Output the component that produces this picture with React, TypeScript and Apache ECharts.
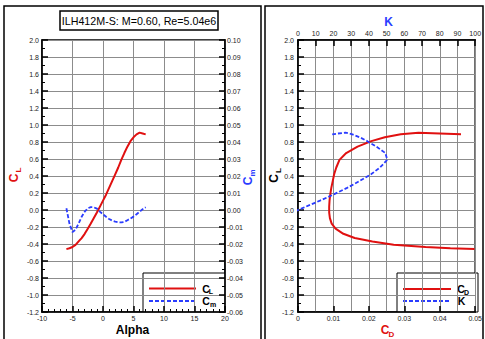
import React, { useEffect, useRef } from 'react';
import * as echarts from 'echarts';

// Angle of attack (deg)
const alpha = [-6, -5.5, -5, -4.5, -4, -3.5, -3, -2.5, -2, -1.5, -1, -0.5, 0, 0.5, 1, 1.5, 2, 2.5, 3, 3.5, 4, 4.5, 5, 5.5, 6, 6.5, 7];
// Lift coefficient
const cl = [-0.46, -0.45, -0.435, -0.41, -0.37, -0.33, -0.28, -0.22, -0.16, -0.095, -0.03, 0.04, 0.11, 0.18, 0.26, 0.34, 0.42, 0.5, 0.59, 0.67, 0.745, 0.81, 0.855, 0.89, 0.91, 0.9, 0.89];
// Moment coefficient
const cm = [0.001, -0.008, -0.013, -0.0115, -0.008, -0.004, -0.001, 0.001, 0.0017, 0.0016, 0.0008, -0.001, -0.0025, -0.004, -0.0053, -0.0062, -0.0068, -0.0072, -0.0073, -0.007, -0.006, -0.005, -0.0039, -0.0025, -0.001, 0.0005, 0.0016];
// Drag coefficient
const cd = [0.0498, 0.043, 0.036, 0.027, 0.021, 0.016, 0.0128, 0.0106, 0.0095, 0.009, 0.0088, 0.0088, 0.0089, 0.0091, 0.0094, 0.0098, 0.0102, 0.0108, 0.0117, 0.0136, 0.0168, 0.0207, 0.0245, 0.029, 0.034, 0.04, 0.046];
// Lift-to-drag ratio K
const kRatio = [-9.2, -10.5, -12.1, -15.2, -17.6, -20.6, -21.9, -20.8, -16.8, -10.6, -3.4, 4.5, 12.4, 19.8, 27.7, 34.7, 41.2, 46.3, 50.4, 49.3, 44.3, 39.1, 34.9, 30.7, 26.8, 22.5, 19.3];

const titleText = 'ILH412M-S: M=0.60, Re=5.04e6';

const RED = '#e01010';
const BLUE = '#2a3cff';
const GRID = '#8c8c8c';
const FONT = '"Liberation Sans", Arial, sans-serif';

const fmt = (d: number) => (v: number) => (Math.abs(v) < 1e-9 ? (0).toFixed(d) : v.toFixed(d));

function axisBase(extra: any) {
  return {
    type: 'value',
    axisLine: { show: true, onZero: false, lineStyle: { color: '#000', width: 1.5 } },
    axisTick: { show: true, inside: true, length: 6, lineStyle: { color: '#000', width: 1.5 } },
    axisLabel: { fontSize: 7, color: '#222', fontFamily: FONT, margin: 3 },
    splitLine: { show: false },
    ...extra,
  };
}

function txt(text: string, x: number, y: number, size: number, color: string, bold = true) {
  return {
    type: 'text',
    x,
    y,
    style: {
      text,
      fill: color,
      fontSize: size,
      fontWeight: bold ? 'bold' : 'normal',
      fontFamily: FONT,
      align: 'center',
      verticalAlign: 'middle',
      textAlign: 'center',
      textVerticalAlign: 'middle',
    },
  };
}

function rotLabel(main: string, sub: string, x: number, y: number, color: string) {
  return {
    type: 'group',
    x,
    y,
    rotation: Math.PI / 2,
    children: [txt(main, 0, 0, 12, color), txt(sub, 8, 4.5, 8, color)],
  };
}

export default function App() {
  const ref = useRef<HTMLDivElement>(null);
  useEffect(() => {
    if (!ref.current) return;
    const chart = echarts.init(ref.current, undefined, { renderer: 'svg' });
    const option: any = {
      animation: false,
      backgroundColor: '#fff',
      grid: [
        { left: 42, top: 40, width: 183, height: 272, show: true, borderColor: '#000', borderWidth: 1.5 },
        { left: 298, top: 40, width: 180, height: 272, show: true, borderColor: '#000', borderWidth: 1.5 },
      ],
      xAxis: [
        axisBase({
          gridIndex: 0, position: 'bottom', min: -10, max: 20, interval: 5,
          axisLabel: { fontSize: 7, color: '#222', fontFamily: FONT, margin: 3, formatter: (v: number) => String(Math.round(v)) },
          minorTick: { show: true, splitNumber: 5, length: 3, lineStyle: { color: '#000', width: 1 } },
          splitLine: { show: true, lineStyle: { color: GRID, width: 1 } },
        }),
        axisBase({
          gridIndex: 1, position: 'bottom', min: 0, max: 0.05, interval: 0.01,
          axisLabel: { fontSize: 7, color: '#222', fontFamily: FONT, margin: 3, formatter: (v: number) => (Math.abs(v) < 1e-9 ? '0' : v.toFixed(2)) },
        }),
        axisBase({
          gridIndex: 1, position: 'top', min: 0, max: 100, interval: 10,
          axisLabel: { fontSize: 7, color: '#222', fontFamily: FONT, margin: 3, formatter: (v: number) => String(Math.round(v)) },
          splitLine: { show: true, lineStyle: { color: GRID, width: 1 } },
        }),
      ],
      yAxis: [
        axisBase({
          gridIndex: 0, position: 'left', min: -1.2, max: 2.0, interval: 0.2,
          axisLabel: { fontSize: 7, color: '#222', fontFamily: FONT, margin: 3, formatter: fmt(1) },
          minorTick: { show: true, splitNumber: 2, length: 3, lineStyle: { color: '#000', width: 1 } },
          splitLine: { show: true, lineStyle: { color: GRID, width: 1 } },
        }),
        axisBase({
          gridIndex: 0, position: 'right', min: -0.06, max: 0.1, interval: 0.01,
          axisLabel: { fontSize: 7, color: '#222', fontFamily: FONT, margin: 2, formatter: fmt(2) },
          minorTick: { show: true, splitNumber: 2, length: 3, lineStyle: { color: '#000', width: 1 } },
        }),
        axisBase({
          gridIndex: 1, position: 'left', min: -1.2, max: 2.0, interval: 0.2,
          axisLabel: { fontSize: 7, color: '#222', fontFamily: FONT, margin: 4, formatter: fmt(1) },
          minorTick: { show: true, splitNumber: 2, length: 3, lineStyle: { color: '#000', width: 1 } },
          splitLine: { show: true, lineStyle: { color: GRID, width: 1 } },
        }),
      ],
      series: [
        {
          type: 'line', xAxisIndex: 0, yAxisIndex: 0, showSymbol: false,
          data: alpha.map((a, i) => [a, cl[i]]),
          lineStyle: { color: RED, width: 2 },
        },
        {
          type: 'line', xAxisIndex: 0, yAxisIndex: 1, showSymbol: false,
          data: alpha.map((a, i) => [a, cm[i]]),
          lineStyle: { color: BLUE, width: 1.8, type: [4, 2] },
        },
        {
          type: 'line', xAxisIndex: 1, yAxisIndex: 2, showSymbol: false, clip: true,
          data: cd.map((d, i) => [d, cl[i]]),
          lineStyle: { color: RED, width: 2 },
        },
        {
          type: 'line', xAxisIndex: 2, yAxisIndex: 2, showSymbol: false, clip: true,
          data: kRatio.map((k, i) => [k, cl[i]]),
          lineStyle: { color: BLUE, width: 1.8, type: [4, 2] },
        },
      ],
      graphic: [
        { type: 'rect', shape: { x: 4, y: 6, width: 257, height: 345 }, style: { fill: 'none', stroke: '#000', lineWidth: 1.5 } },
        { type: 'rect', shape: { x: 265, y: 6, width: 218, height: 345 }, style: { fill: 'none', stroke: '#000', lineWidth: 1.5 } },
        { type: 'rect', shape: { x: 60, y: 11, width: 158, height: 19 }, style: { fill: '#fff', stroke: '#000', lineWidth: 1.5 } },
        txt(titleText, 139, 20.5, 10.7, '#000', false),
        txt('Alpha', 132.5, 330, 12, '#000'),
        rotLabel('C', 'L', 14, 178, RED),
        rotLabel('C', 'm', 247.5, 181, BLUE),
        rotLabel('C', 'L', 273.5, 178.5, '#000'),
        txt('C', 385, 330, 12, RED),
        txt('D', 391.5, 334, 8, RED),
        txt('K', 388.5, 21.5, 12, BLUE),
        // left legend
        { type: 'rect', shape: { x: 143, y: 273, width: 82, height: 39 }, style: { fill: '#fff', stroke: '#000', lineWidth: 1 } },
        { type: 'line', shape: { x1: 149, y1: 288.5, x2: 196, y2: 288.5 }, style: { stroke: RED, lineWidth: 2 } },
        { type: 'line', shape: { x1: 149, y1: 301, x2: 196, y2: 301 }, style: { stroke: BLUE, lineWidth: 1.8, lineDash: [4, 2] } },
        txt('C', 206, 288.5, 10.5, '#000'),
        txt('L', 211, 291.5, 7, '#000'),
        txt('C', 206, 300.5, 10.5, '#000'),
        txt('m', 213, 304, 7, '#000'),
        // right legend
        { type: 'rect', shape: { x: 397, y: 273, width: 81, height: 39 }, style: { fill: '#fff', stroke: '#000', lineWidth: 1 } },
        { type: 'line', shape: { x1: 403, y1: 289, x2: 451, y2: 289 }, style: { stroke: RED, lineWidth: 2 } },
        { type: 'line', shape: { x1: 403, y1: 301, x2: 451, y2: 301 }, style: { stroke: BLUE, lineWidth: 1.8, lineDash: [4, 2] } },
        txt('C', 461, 289.3, 10.5, '#000'),
        txt('D', 466.5, 292.5, 7, '#000'),
        txt('K', 461.5, 300.5, 10.5, '#000'),
      ],
    };
    chart.setOption(option);
    return () => chart.dispose();
  }, []);
  return <div ref={ref} style={{ position: 'fixed', left: 0, top: 0, width: 485, height: 339 }} />;
}
